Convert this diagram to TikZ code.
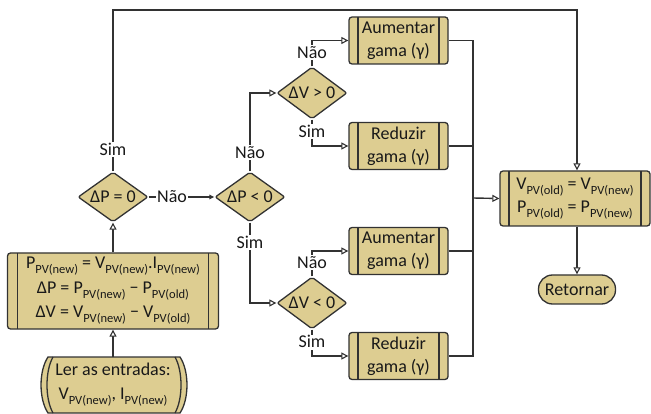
\documentclass[tikz,border=0pt]{standalone}
\usepackage{fontspec}
\setmainfont{Carlito}
\usetikzlibrary{shapes.geometric,arrows.meta}
\definecolor{khaki}{RGB}{221,205,145}
\definecolor{ln}{RGB}{50,50,50}
\definecolor{tx}{RGB}{25,25,25}
\newcommand\sbs[1]{\raisebox{-0.28em}{\fontsize{12.5}{12.5}\selectfont #1}}
\newcommand\fs{\fontsize{18}{23}\selectfont}
\tikzset{
  conn/.style={draw=ln, line width=1.4pt},
  arr/.style={conn, -{Triangle[length=7pt,width=7pt,fill=white,line width=1.1pt]}},
  arrf/.style={conn, -{Triangle[length=5pt,width=4.5pt]}},
  proc/.style={draw=ln, line width=1.3pt, fill=khaki, rounded corners=3pt, align=center,
    font=\fs, text=tx, minimum width=99pt, minimum height=47pt, inner sep=0pt,
    path picture={\draw[ln,line width=1.3pt]
      ([xshift=#1pt]path picture bounding box.north west) -- ([xshift=#1pt]path picture bounding box.south west)
      ([xshift=-#1pt]path picture bounding box.north east) -- ([xshift=-#1pt]path picture bounding box.south east);}},
  proc/.default=9,
  dia/.style={diamond, draw=ln, fill=khaki, line width=1.3pt, rounded corners=2pt, shape aspect=1.4,
    inner sep=0pt, minimum width=70pt, minimum height=50pt, font=\fs, text=tx},
  lab/.style={fill=white, inner sep=1pt, text height=12.5pt, text depth=0.5pt, font=\fs, text=tx},
}
\begin{document}
\begin{tikzpicture}[x=1pt,y=-1pt]
\useasboundingbox (0,0) rectangle (651,414);
% input shape
\draw[draw=ln, line width=1.3pt, fill=khaki] (48,357) -- (180,357) .. controls (189.3,371) and (189.3,399) .. (180,413) -- (48,413) .. controls (38.7,399) and (38.7,371) .. (48,357) -- cycle;
\draw[draw=ln, line width=1.3pt] (53,357) .. controls (45,371) and (45,399) .. (53,413);
\draw[draw=ln, line width=1.3pt] (175,357) .. controls (183,371) and (183,399) .. (175,413);
\node[align=center, font=\fontsize{18}{24}\selectfont, text=tx, minimum width=147pt, minimum height=56pt, inner sep=0pt] (L) at (113,385) {Ler as entradas:\\V\sbs{PV(new)}, I\sbs{PV(new)}};
% process boxes
\node[proc=10, minimum width=211pt, minimum height=76pt, font=\fontsize{18}{24.5}\selectfont] (C) at (113,291)
  {P\sbs{PV(new)} = V\sbs{PV(new)}.I\sbs{PV(new)}\\ΔP = P\sbs{PV(new)} − P\sbs{PV(old)}\\ΔV = V\sbs{PV(new)} − V\sbs{PV(old)}};
\node[proc] (A1) at (398.5,40.5) {Aumentar\\gama (γ)};
\node[proc] (R1) at (398.5,146) {Reduzir\\gama (γ)};
\node[proc] (A2) at (398.5,251) {Aumentar\\gama (γ)};
\node[proc] (R2) at (398.5,356) {Reduzir\\gama (γ)};
\node[proc, minimum width=150pt, minimum height=55pt] (V) at (575,198.5)
  {V\sbs{PV(old)} = V\sbs{PV(new)}\\P\sbs{PV(old)} = P\sbs{PV(new)}};
\node[draw=ln, fill=khaki, line width=1.3pt, rounded corners=14pt, minimum width=77pt, minimum height=29pt, inner sep=0pt, font=\fs, text=tx] (Ret) at (577,289.5) {Retornar};
% decisions
\node[dia] (D1) at (113,197) {ΔP = 0};
\node[dia] (D2) at (250,197) {ΔP < 0};
\node[dia, minimum height=52pt] (D3) at (312,93) {ΔV > 0};
\node[dia, minimum height=52pt] (D4) at (312,303) {ΔV < 0};
% connectors
\draw[arr] (L.north) -- (C.south);
\draw[arr] (C.north) -- (D1.south);
\draw[arr] (D1.north) -- (113,10) -- (577,10) -- (Ret.north |- V.north);
\draw[arrf] (D1.east) -- (D2.west);
\draw[arr] (D2.north) |- (D3.west);
\draw[arr] (D2.south) |- (D4.west);
\draw[arr] (D3.north) |- (A1.west);
\draw[arr] (D3.south) |- (R1.west);
\draw[arr] (D4.north) |- (A2.west);
\draw[arr] (D4.south) |- (R2.west);
\coordinate (B) at (473,198);
\draw[conn] (A1.east) -| (B);
\draw[conn] (R2.east) -| (B);
\draw[conn] (R1.east) -- (R1.east -| B);
\draw[conn] (A2.east) -- (A2.east -| B);
\draw[arr] (B) -- (V.west);
\draw[arr] (Ret.north |- V.south) -- (Ret.north);
% labels
\node[lab] at (113,150) {Sim};
\node[lab] at (172,197) {Não};
\node[lab] at (250,153) {Não};
\node[lab] at (250,243) {Sim};
\node[lab] at (312,53) {Não};
\node[lab] at (312,132) {Sim};
\node[lab] at (312,263) {Não};
\node[lab] at (312,342) {Sim};
\end{tikzpicture}
\end{document}
